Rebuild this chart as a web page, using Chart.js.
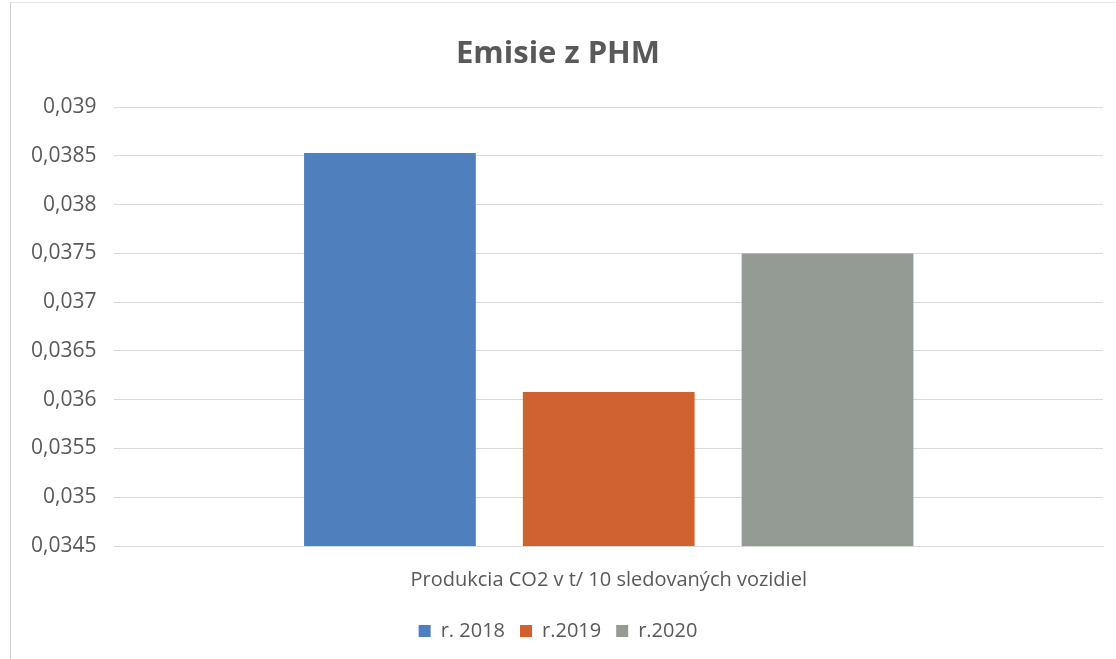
<!DOCTYPE html>
<html>
<head>
<meta charset="utf-8">
<script src="https://cdn.jsdelivr.net/npm/chart.js@4/dist/chart.umd.min.js"></script>
<style>
  html, body { margin: 0; padding: 0; background: #fff; }
  #ramik { position: absolute; left: 10px; top: 2px; width: 1105px; height: 656px; border-left: 1px solid #d0d0d0; border-top: 1px solid #e6e6e6; }
  #graf { display: block; }
</style>
</head>
<body>
<div id="ramik"><canvas id="graf" width="1105" height="656"></canvas></div>
<script>
// data z grafu
const kategorie = ['Produkcia CO2 v t/ 10 sledovaných vozidiel'];
const roky = ['r. 2018', 'r.2019', 'r.2020'];
const hodnoty2018 = [0.03853];
const hodnoty2019 = [0.03608];
const hodnoty2020 = [0.0375];
const farby = ['#4f7fbd', '#cf6230', '#949b95'];

const pismo = "'Open Sans', Lato, sans-serif";

const ctx = document.getElementById('graf').getContext('2d');
new Chart(ctx, {
    type: 'bar',
    data: {
        labels: kategorie,
        datasets: [
            { label: roky[0], data: hodnoty2018, backgroundColor: farby[0] },
            { label: roky[1], data: hodnoty2019, backgroundColor: farby[1] },
            { label: roky[2], data: hodnoty2020, backgroundColor: farby[2] }
        ]
    },
    options: {
        responsive: false,
        animation: false,
        categoryPercentage: 0.664,
        barPercentage: 0.785,
        layout: { padding: { left: 2, right: 13, top: 18, bottom: 8 } },
        plugins: {
            title: {
                display: true,
                text: 'Emisie z PHM',
                color: '#595959',
                font: { family: pismo, size: 31, weight: 'bold' },
                padding: { top: 15, bottom: 34 }
            },
            legend: {
                position: 'bottom',
                labels: {
                    color: '#595959',
                    font: { family: pismo, size: 20 },
                    boxWidth: 12,
                    boxHeight: 12,
                    padding: 15
                }
            },
            tooltip: { enabled: false }
        },
        scales: {
            x: {
                grid: { display: false },
                border: { color: '#d9d9d9' },
                ticks: { color: '#595959', font: { family: pismo, size: 20 }, padding: 14 }
            },
            y: {
                min: 0.0345,
                max: 0.039,
                border: { display: false },
                grid: { color: '#d9d9d9', drawTicks: false },
                ticks: {
                    stepSize: 0.0005,
                    color: '#595959',
                    font: { family: pismo, size: 21 },
                    padding: 18,
                    callback: function(v) {
                        return parseFloat(v.toFixed(4)).toString().replace('.', ',');
                    }
                }
            }
        }
    }
});
</script>
</body>
</html>
